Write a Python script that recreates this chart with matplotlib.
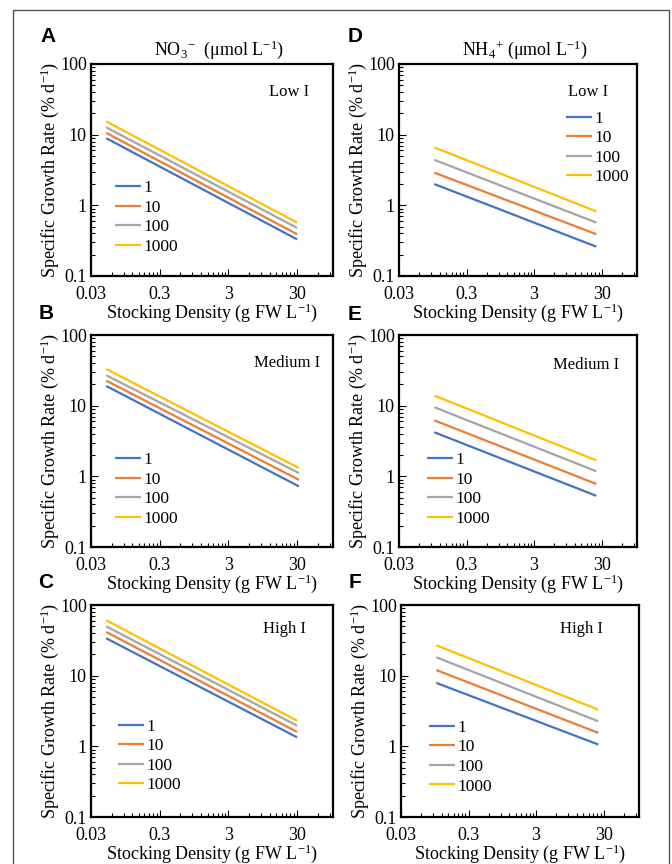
import numpy as np
import matplotlib
matplotlib.use('Agg')
import matplotlib.pyplot as plt
from matplotlib.ticker import FixedLocator, NullFormatter, FixedFormatter
from matplotlib.patches import Rectangle

plt.rcParams['font.family'] = 'Liberation Serif'
plt.rcParams['mathtext.fontset'] = 'custom'
plt.rcParams['mathtext.rm'] = 'Liberation Serif'
plt.rcParams['mathtext.it'] = 'Liberation Serif:italic'

# data: growth rate (% d-1) at first and last stocking density, per N concentration
conc_labels = ['1', '10', '100', '1000']
colors = ['#4472C4', '#ED7D31', '#A5A5A5', '#FFC000']

x_no3 = [0.05, 30]
x_no3_med = [0.05, 32]
x_nh4 = [0.1, 25]

no3_low = [[8.9, 0.33], [10.6, 0.39], [12.7, 0.48], [15.4, 0.57]]
no3_med = [[19.0, 0.72], [22.6, 0.89], [26.9, 1.11], [33.0, 1.31]]
no3_high = [[33.8, 1.34], [41.5, 1.60], [49.9, 1.96], [60.7, 2.31]]
nh4_low = [[2.0, 0.26], [2.9, 0.39], [4.4, 0.57], [6.6, 0.82]]
nh4_med = [[4.2, 0.53], [6.2, 0.78], [9.5, 1.18], [13.9, 1.68]]
nh4_high = [[7.9, 1.06], [12.0, 1.55], [18.2, 2.26], [26.9, 3.3]]

W, H = 672, 864
fig = plt.figure(figsize=(W/100, H/100), dpi=100)
fig.patches.append(Rectangle((13/W, -0.1), (669-13)/W, 1.1 - 10/H,
                             transform=fig.transFigure, fill=False,
                             edgecolor='#555555', lw=1.0))

def px_axes(l, t, w, h):
    return fig.add_axes([l/W, 1-(t+h)/H, w/W, h/H])

panels = [
    # letter, left, top, width, x, data, label, legend(x,y), label pos
    ('A', 91, 64, 242, x_no3, no3_low, 'Low I', (0.099, 0.276), (0.818, 0.868)),
    ('B', 91, 335, 242, x_no3_med, no3_med, 'Medium I', (0.099, 0.271), (0.81, 0.868)),
    ('C', 91, 605, 242, x_no3, no3_high, 'High I', (0.112, 0.288), (0.80, 0.887)),
    ('D', 399, 64, 238, x_nh4, nh4_low, 'Low I', (0.70, 0.604), (0.794, 0.868)),
    ('E', 399, 335, 238, x_nh4, nh4_med, 'Medium I', (0.118, 0.271), (0.786, 0.858)),
    ('F', 401, 605, 238, x_nh4, nh4_high, 'High I', (0.118, 0.283), (0.76, 0.887)),
]
letter_pos = {'A': (48, 36), 'B': (46, 313), 'C': (46, 583),
              'D': (355, 37), 'E': (355, 314), 'F': (355, 583)}

xmaj = [0.03, 0.3, 3, 30]
xmin = [0.03*k*10**n for n in range(4) for k in range(2, 10)]
ymaj = [0.1, 1, 10, 100]
ymin = [0.1*k*10**n for n in range(3) for k in range(2, 10)]

AH = 212
for letter, l, t, w, xs, data, lab, legpos, labpos in panels:
    ax = px_axes(l, t, w, AH)
    for vals, c, name in zip(data, colors, conc_labels):
        ax.plot(xs, vals, color=c, lw=1.6, label=name, solid_capstyle='butt')
    ax.set_xscale('log'); ax.set_yscale('log')
    ax.set_xlim(0.03, 100); ax.set_ylim(0.1, 100)
    ax.xaxis.set_major_locator(FixedLocator(xmaj))
    ax.xaxis.set_major_formatter(FixedFormatter(['0.03', '0.3', '3', '30']))
    ax.xaxis.set_minor_locator(FixedLocator(xmin))
    ax.xaxis.set_minor_formatter(NullFormatter())
    ax.yaxis.set_major_locator(FixedLocator(ymaj))
    ax.yaxis.set_major_formatter(FixedFormatter(['0.1', '1', '10', '100']))
    ax.yaxis.set_minor_locator(FixedLocator(ymin))
    ax.yaxis.set_minor_formatter(NullFormatter())
    ax.tick_params(which='both', direction='in', labelsize=13, width=0.8)
    ax.tick_params(which='major', length=5)
    ax.tick_params(which='minor', length=3)
    ax.tick_params(axis='x', which='major', pad=7)
    ax.tick_params(axis='y', which='major', pad=3)
    for s in ax.spines.values():
        s.set_linewidth(1.6)
    ax.text(0.5, -37/AH, 'Stocking Density (g FW L$^{-1}$)', transform=ax.transAxes,
            ha='center', va='center', fontsize=13)
    ax.text(-41/w, 0.5, 'Specific Growth Rate (% d$^{-1}$)', transform=ax.transAxes,
            ha='center', va='center', rotation=90, fontsize=13)
    ax.text(labpos[0], labpos[1], lab, transform=ax.transAxes,
            ha='center', va='center', fontsize=12)
    ax.legend(loc='center left', bbox_to_anchor=legpos, frameon=False,
              fontsize=12.5, handlelength=1.5, handletextpad=0.15,
              labelspacing=0.2, borderpad=0, borderaxespad=0)
    lx, ly = letter_pos[letter]
    fig.text(lx/W, 1-ly/H, letter, family='Liberation Sans', weight='bold',
             fontsize=15, ha='center', va='center')
    if letter == 'A':
        ax.text(0.53, 1+14/AH, 'NO$_3$$^{-}$  (μmol L$^{-1}$)', transform=ax.transAxes,
                ha='center', va='center', fontsize=13)
    if letter == 'D':
        ax.text(0.53, 1+14/AH, 'NH$_4$$^{+}$ (μmol L$^{-1}$)', transform=ax.transAxes,
                ha='center', va='center', fontsize=13)

fig.savefig('out.png', dpi=100)
